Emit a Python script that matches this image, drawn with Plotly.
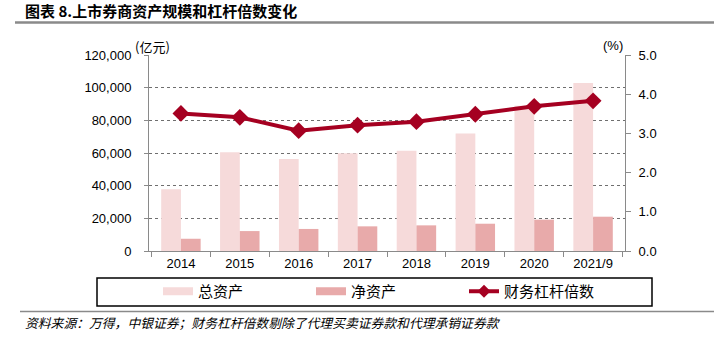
import plotly.graph_objects as go

# Data
years = ["2014", "2015", "2016", "2017", "2018", "2019", "2020", "2021/9"]
total_assets = [37800, 60400, 56300, 59800, 61400, 72000, 89000, 102900]   # 亿元
net_assets = [7500, 12200, 13500, 15100, 15700, 16700, 19200, 21000]       # 亿元
leverage = [3.51, 3.41, 3.07, 3.21, 3.30, 3.49, 3.69, 3.83]                 # 倍

C_TOTAL = "#F6DADA"
C_NET = "#E8AAAA"
C_LINE = "#A50021"
GREY = "#8A8A8A"

NUM_FONT = "Liberation Sans, Arial, sans-serif"
CJK_FONT = "Noto Sans CJK SC, sans-serif"

W, H = 714, 345
L, R, T, B = 149, 625, 55, 251


def px(x):
    return (x - L) / (R - L)


def py(y):
    return (B - y) / (B - T)


fig = go.Figure()

fig.add_trace(go.Bar(x=years, y=total_assets, name="总资产", marker_color=C_TOTAL,
                     marker_line_width=0, showlegend=False, yaxis="y"))
fig.add_trace(go.Bar(x=years, y=net_assets, name="净资产", marker_color=C_NET,
                     marker_line_width=0, showlegend=False, yaxis="y"))
fig.add_trace(go.Scatter(x=years, y=leverage, name="财务杠杆倍数", mode="lines+markers",
                         line=dict(color=C_LINE, width=4),
                         marker=dict(symbol="diamond", size=13, color=C_LINE),
                         showlegend=False, yaxis="y2", cliponaxis=False))

# legend entries (wide swatches for the bar series)
fig.add_trace(go.Scatter(x=[None], y=[None], mode="lines", name="总资产",
                         line=dict(color=C_TOTAL, width=8)))
fig.add_trace(go.Scatter(x=[None], y=[None], mode="lines", name="净资产",
                         line=dict(color=C_NET, width=8)))
fig.add_trace(go.Scatter(x=[None], y=[None], mode="lines+markers", name="财务杠杆倍数",
                         line=dict(color=C_LINE, width=4),
                         marker=dict(symbol="diamond", size=10, color=C_LINE)))

fig.update_layout(
    width=W, height=H,
    margin=dict(l=L, r=W - R, t=T, b=H - B, autoexpand=False),
    paper_bgcolor="white", plot_bgcolor="white",
    barmode="group", bargap=0.33, bargroupgap=0,
    font=dict(family=NUM_FONT, size=13, color="#000"),
    xaxis=dict(type="category", showline=True, linecolor=GREY, linewidth=1,
               ticks="outside", tickson="boundaries", ticklen=5, tickcolor=GREY,
               tickfont=dict(family=NUM_FONT, size=13, color="#000"),
               showgrid=False, zeroline=False),
    yaxis=dict(range=[0, 120000], dtick=20000, tickformat=",", showline=True,
               linecolor=GREY, linewidth=1, ticks="outside", ticklen=4, tickcolor=GREY,
               ticklabelstandoff=10,
               showgrid=True, gridcolor="#6f6f6f", griddash="dot", gridwidth=1,
               zeroline=False, tickfont=dict(family=NUM_FONT, size=13, color="#000")),
    yaxis2=dict(range=[0, 5], dtick=1, tickformat=".1f", overlaying="y", side="right",
                showline=True, linecolor=GREY, linewidth=1, ticks="outside", ticklen=5,
                tickcolor=GREY, ticklabelstandoff=5, showgrid=False, zeroline=False,
                tickfont=dict(family=NUM_FONT, size=13, color="#000")),
    legend=dict(orientation="h", xref="container", yref="container",
                x=158 / W, xanchor="left", y=1 - 291.5 / H, yanchor="middle",
                entrywidth=108, entrywidthmode="pixels", bgcolor="rgba(0,0,0,0)",
                borderwidth=0, font=dict(family=CJK_FONT, size=15, color="#000"),
                itemwidth=30, traceorder="normal"),
    showlegend=True,
)

shapes = [
    # rule under the title
    dict(type="line", xref="paper", yref="paper", x0=px(15), x1=px(714),
         y0=py(22.5), y1=py(22.5), line=dict(color=GREY, width=2.5)),
    # legend frame
    dict(type="rect", xref="paper", yref="paper", x0=px(97), x1=px(652),
         y0=py(306), y1=py(278), line=dict(color="#000", width=1.5)),
    # rule above the source note
    dict(type="line", xref="paper", yref="paper", x0=px(20), x1=px(714),
         y0=py(311.5), y1=py(311.5), line=dict(color=GREY, width=1.5)),
]
fig.update_layout(shapes=shapes)

annotations = [
    dict(text="<b>图表 8.上市券商资产规模和杠杆倍数变化</b>", xref="paper", yref="paper",
         x=px(23), y=py(10), xanchor="left", yanchor="middle", showarrow=False,
         font=dict(family=CJK_FONT, size=15, color="#000")),
    dict(text="(亿元)", xref="paper", yref="paper", x=px(152), y=py(47),
         xanchor="center", yanchor="middle", showarrow=False,
         font=dict(family=CJK_FONT, size=13, color="#000")),
    dict(text="(%)", xref="paper", yref="paper", x=px(613), y=py(45),
         xanchor="center", yanchor="middle", showarrow=False,
         font=dict(family=NUM_FONT, size=13, color="#000")),
    dict(text="<i>资料来源：万得，中银证券；财务杠杆倍数剔除了代理买卖证券款和代理承销证券款</i>",
         xref="paper", yref="paper", x=px(23), y=py(322), xanchor="left", yanchor="middle",
         showarrow=False, font=dict(family=CJK_FONT, size=12.8, color="#000")),
]
fig.update_layout(annotations=annotations)

fig.write_html("out.html")
